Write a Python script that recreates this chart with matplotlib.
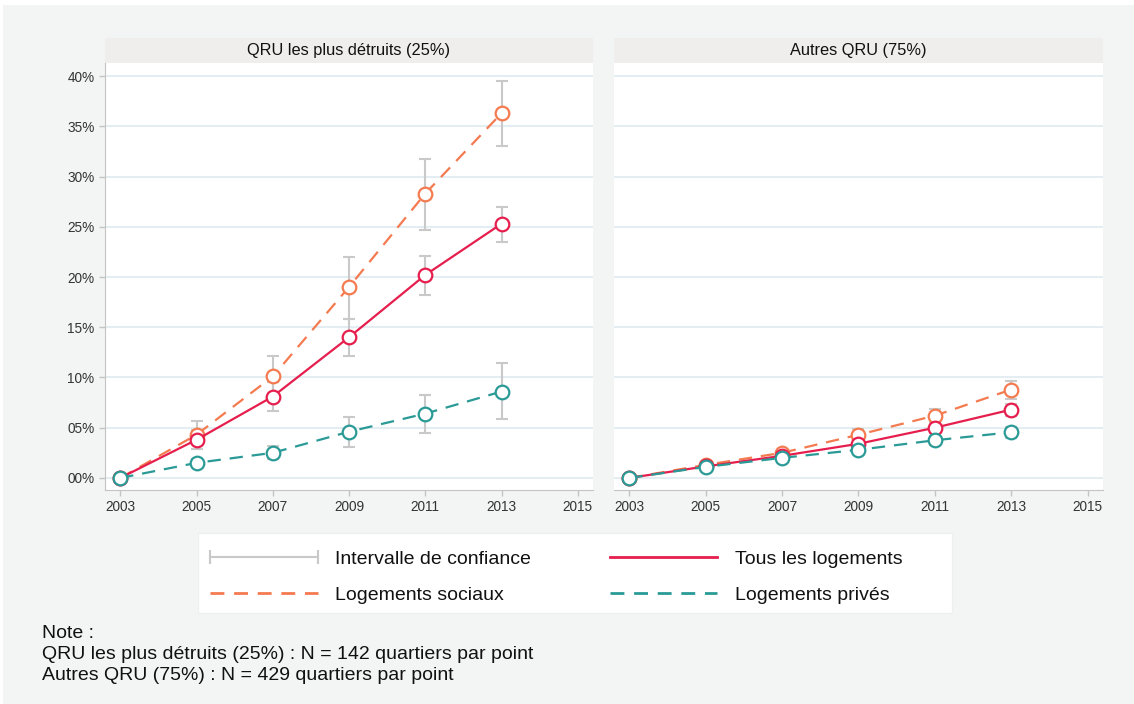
import numpy as np
import matplotlib.pyplot as plt
from matplotlib.lines import Line2D
from matplotlib.patches import Rectangle

plt.rcParams['font.family'] = ['Liberation Sans', 'DejaVu Sans']

years = [2003, 2005, 2007, 2009, 2011, 2013]
panels = ["QRU les plus détruits (25%)", "Autres QRU (75%)"]

# left panel: most demolished QRU (values in %)
tous_l = [0, 3.8, 8.1, 14.0, 20.2, 25.3]
tous_l_lo = [0, 2.9, 6.7, 12.1, 18.2, 23.5]
tous_l_hi = [0, 4.8, 9.5, 15.8, 22.1, 27.0]
soc_l = [0, 4.3, 10.1, 19.0, 28.3, 36.3]
soc_l_lo = [0, 2.9, 8.2, 15.8, 24.7, 33.0]
soc_l_hi = [0, 5.7, 12.1, 22.0, 31.7, 39.5]
priv_l = [0, 1.5, 2.5, 4.6, 6.4, 8.6]
priv_l_lo = [0, 1.1, 1.9, 3.1, 4.5, 5.9]
priv_l_hi = [0, 1.9, 3.2, 6.1, 8.3, 11.4]

# right panel: other QRU
tous_r = [0, 1.15, 2.2, 3.4, 5.0, 6.8]
tous_r_lo = [0, 1.0, 1.9, 3.0, 4.5, 6.2]
tous_r_hi = [0, 1.3, 2.5, 3.8, 5.5, 7.4]
soc_r = [0, 1.3, 2.5, 4.3, 6.2, 8.8]
soc_r_lo = [0, 1.1, 2.2, 3.8, 5.6, 7.9]
soc_r_hi = [0, 1.5, 2.8, 4.9, 6.9, 9.6]
priv_r = [0, 1.1, 2.0, 2.8, 3.75, 4.55]
priv_r_lo = [0, 0.9, 1.7, 2.4, 3.3, 4.0]
priv_r_hi = [0, 1.3, 2.3, 3.2, 4.2, 5.1]

labels = ["Intervalle de confiance", "Logements sociaux", "Tous les logements", "Logements privés"]
notes = ["Note :",
         "QRU les plus détruits (25%) : N = 142 quartiers par point",
         "Autres QRU (75%) : N = 429 quartiers par point"]

c_tous = "#e61e4d"
c_soc = "#f47a50"
c_priv = "#2a9a96"
c_ci = "#c9c9c9"
c_grid = "#e4edf1"
c_axis = "#c4c4c4"
c_txt = "#333333"

fig = plt.figure(figsize=(11.34, 7.04), dpi=100, facecolor="white")
fig.patches.append(Rectangle((3/1134, 0), 1, 699/704, transform=fig.transFigure,
                             facecolor="#f3f5f4", edgecolor="none", zorder=-10))

ax1 = fig.add_axes([105/1134, 214/704, 488/1134, 427/704])
ax2 = fig.add_axes([614/1134, 214/704, 489/1134, 427/704])

data = [
    [(tous_l, tous_l_lo, tous_l_hi), (soc_l, soc_l_lo, soc_l_hi), (priv_l, priv_l_lo, priv_l_hi)],
    [(tous_r, tous_r_lo, tous_r_hi), (soc_r, soc_r_lo, soc_r_hi), (priv_r, priv_r_lo, priv_r_hi)],
]

def draw(ax, series, title, show_y):
    ax.set_facecolor("white")
    for v, lo, hi in series:
        v, lo, hi = np.array(v), np.array(lo), np.array(hi)
        ax.errorbar(years[1:], v[1:], yerr=[v[1:] - lo[1:], hi[1:] - v[1:]], fmt="none",
                    ecolor=c_ci, elinewidth=1.5, capsize=4, capthick=1.5, zorder=2)
    (tous, _, _), (soc, _, _), (priv, _, _) = series
    mk = dict(marker="o", markersize=9.8, markerfacecolor="white", markeredgewidth=1.6)
    ax.plot(years, soc, color=c_soc, lw=1.6, dashes=(6, 4), markeredgecolor=c_soc, zorder=3, **mk)
    ax.plot(years, tous, color=c_tous, lw=1.6, markeredgecolor=c_tous, zorder=4, **mk)
    ax.plot(years, priv, color=c_priv, lw=1.6, dashes=(6, 4), markeredgecolor=c_priv, zorder=5, **mk)

    ax.set_xlim(2002.6, 2015.4)
    ax.set_ylim(-1.2, 41.3)
    ax.set_xticks(range(2003, 2016, 2))
    ax.set_yticks(range(0, 41, 5))
    ax.yaxis.grid(True, color=c_grid, lw=1.5)
    ax.set_axisbelow(True)
    for s in ["top", "right"]:
        ax.spines[s].set_visible(False)
    ax.spines["bottom"].set_color(c_axis)
    ax.spines["left"].set_color(c_axis)
    ax.spines["left"].set_visible(show_y)
    ax.tick_params(axis="x", colors=c_axis, labelcolor=c_txt, labelsize=9.8, length=4, width=1)
    if show_y:
        ax.set_yticklabels(["%02d%%" % t for t in range(0, 41, 5)])
        ax.tick_params(axis="y", colors=c_axis, labelcolor=c_txt, labelsize=9.8, length=4, width=1)
    else:
        ax.tick_params(axis="y", length=0, labelleft=False)
    # facet strip
    ax.add_patch(Rectangle((0, 1), 1, 25/427, transform=ax.transAxes, facecolor="#efeeed",
                           edgecolor="none", clip_on=False))
    ax.text(0.5, 1 + 12.5/427, title, transform=ax.transAxes, ha="center", va="center",
            fontsize=11.8, color="#111111")

draw(ax1, data[0], panels[0], True)
draw(ax2, data[1], panels[1], False)

# legend box drawn separately so it can be wider than the entries
fig.patches.append(Rectangle((198/1134, 1 - 613/704), 754/1134, 80/704, transform=fig.transFigure,
                             facecolor="white", edgecolor="#eef0f0", lw=1, zorder=-5))

handles = [
    Line2D([], [], color=c_ci, lw=1.5, marker="|", markersize=10, markeredgewidth=1.5),
    Line2D([], [], color=c_soc, lw=2, dashes=(5, 3.5)),
    Line2D([], [], color=c_tous, lw=2),
    Line2D([], [], color=c_priv, lw=2, dashes=(5, 3.5)),
]
leg = fig.legend(handles, labels, ncol=2, loc="upper left", bbox_to_anchor=(192/1134, 1 - 538/704),
                 numpoints=2, fontsize=14, frameon=False, handlelength=6.15, borderaxespad=0,
                 handletextpad=0.59, columnspacing=3.74, labelspacing=0.95, borderpad=0.62)
for t in leg.get_texts():
    t.set_color("#111111")

for i, line in enumerate(notes):
    fig.text(42/1134, 1 - (634 + 20.5*i)/704, line, fontsize=14, color="#111111", va="center")

fig.savefig("out.png", dpi=100)
